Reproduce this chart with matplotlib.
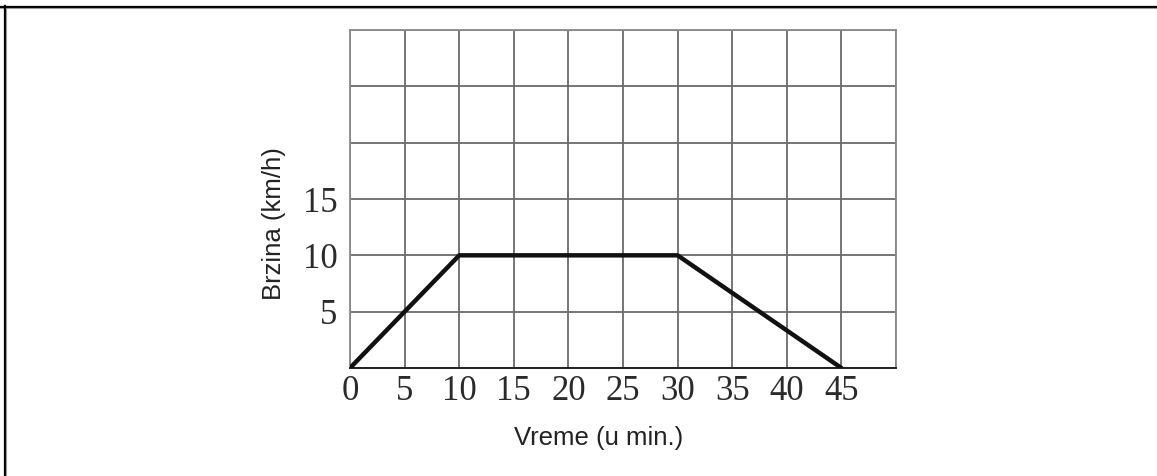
import numpy as np
import matplotlib.pyplot as plt
from matplotlib.lines import Line2D

# vreme (min) i brzina (km/h) u prelomnim tackama
vreme = [0, 10, 30, 45]
brzina = [0, 10, 10, 0]

x_ticks = list(range(0, 55, 5))
x_tick_labels = [str(t) for t in range(0, 50, 5)] + ['']
y_ticks = list(range(0, 35, 5))
y_tick_labels = ['', '5', '10', '15', '', '', '']

fig = plt.figure(figsize=(11.57, 4.76), dpi=100)
ax = fig.add_axes([350 / 1157, 108 / 476, 546 / 1157, 338 / 476])

ax.plot(vreme, brzina, color='#111111', linewidth=3.2, solid_capstyle='round',
        solid_joinstyle='round', zorder=3)

ax.set_xlim(0, 50)
ax.set_ylim(0, 30)
ax.set_xticks(x_ticks)
ax.set_xticklabels(x_tick_labels)
ax.set_yticks(y_ticks)
ax.set_yticklabels(y_tick_labels)
ax.tick_params(length=0, labelsize=25, colors='#2a2a2a')
ax.tick_params(axis='x', pad=5)
ax.tick_params(axis='y', pad=9)
for lbl in ax.get_xticklabels() + ax.get_yticklabels():
    lbl.set_fontfamily('Liberation Serif')

ax.grid(True, color='#6a6a6a', linewidth=1.3)
for side in ['left', 'top', 'right']:
    ax.spines[side].set_color('#8a8a8a')
    ax.spines[side].set_linewidth(1.3)
ax.spines['bottom'].set_color('#222222')
ax.spines['bottom'].set_linewidth(1.4)

ax.set_xlabel('Vreme (u min.)', fontfamily='Liberation Sans', fontsize=18.5,
              color='#222222')
ax.xaxis.set_label_coords(0.456, -0.172)
ax.set_ylabel('Brzina (km/h)', fontfamily='Liberation Sans', fontsize=18.5,
              color='#222222')
ax.yaxis.set_label_coords(-0.118, 0.426)

# okvir: gornja i leva ivica
H, W = 476, 1157
fig.add_artist(Line2D([0, 1], [1 - 6.5 / H] * 2, color='black', linewidth=1.6))
fig.add_artist(Line2D([0, 1], [1 - 8.0 / H] * 2, color='#9a9a9a', linewidth=0.8))
fig.add_artist(Line2D([4.8 / W] * 2, [0, 1 - 6 / H], color='black', linewidth=1.6))
fig.add_artist(Line2D([6.3 / W] * 2, [0, 1 - 8 / H], color='#9a9a9a', linewidth=0.8))

fig.savefig('out.png', dpi=100, facecolor='white')
